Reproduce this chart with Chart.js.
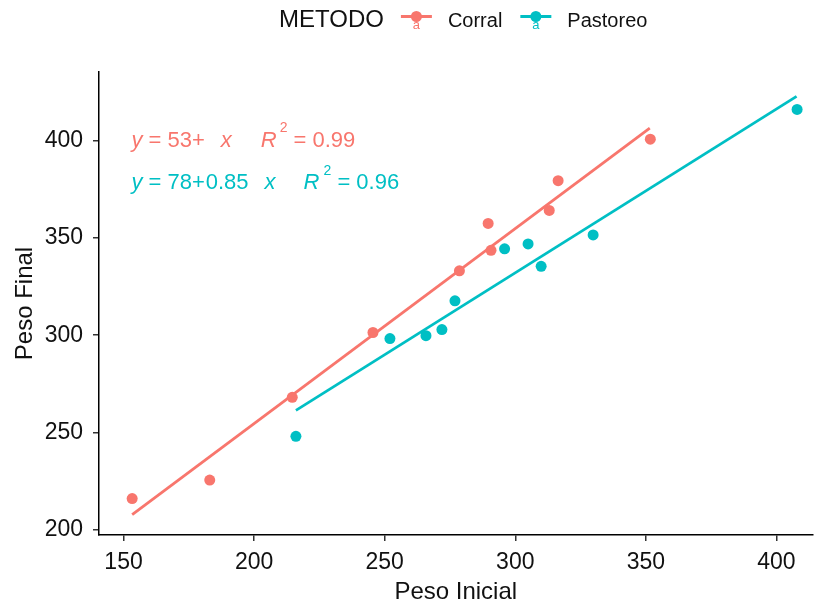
<!DOCTYPE html>
<html lang="es">
<head>
  <meta charset="UTF-8">
  <title>Peso Final vs Peso Inicial</title>
  <script src="https://cdn.jsdelivr.net/npm/chart.js"></script>
  <style>
    html, body { margin: 0; padding: 0; background: #fff; }
    #chart { display: block; }
  </style>
</head>
<body>
  <canvas id="chart" width="818" height="607"></canvas>

  <script>
    // --- data ---
    const xTicks = [150, 200, 250, 300, 350, 400];
    const yTicks = [200, 250, 300, 350, 400];

    const corralInicial = [153.3, 183, 214.6, 245.5, 278.6, 289.6, 290.7, 313, 316.4, 351.7];
    const corralFinal   = [216.1, 225.6, 268.1, 301.4, 333.1, 357.4, 343.6, 364.1, 379.4, 400.7];

    const pastoreoInicial = [216, 252, 265.8, 271.9, 276.9, 295.9, 304.9, 309.9, 329.8, 407.9];
    const pastoreoFinal   = [248.1, 298.3, 299.8, 302.9, 317.7, 344.4, 346.9, 335.4, 351.5, 416.0];

    // regression lines (ends as drawn in the picture)
    const corralLineX = [153.3, 351.5];
    const corralLineY = [207.9, 406.4];
    const pastoreoLineX = [216, 407.7];
    const pastoreoLineY = [261.4, 422.7];

    const groups = ['Corral', 'Pastoreo'];
    const colors = ['#F8766D', '#00BFC4'];

    // equation labels, anchored in data units
    const labelX = 153;
    const labelY = [400, 378];
    const eqParts = [
      [{t: 'y', it: true}, {t: ' = 53+'}, {gap: 16}, {t: 'x', it: true}, {gap: 29},
       {t: 'R', it: true}, {gap: 3}, {t: '2', sup: true}, {t: ' = 0.99'}],
      [{t: 'y', it: true}, {t: ' = 78+'}, {gap: 1}, {t: '0.85'}, {gap: 16}, {t: 'x', it: true}, {gap: 28},
       {t: 'R', it: true}, {gap: 4}, {t: '2', sup: true}, {t: ' = 0.96'}]
    ];

    const toPts = (xs, ys) => xs.map((x, i) => ({x, y: ys[i]}));
    const FONT = '"Liberation Sans", Arial, sans-serif';
    const INK = '#111';

    // equations drawn inside the panel
    const eqPlugin = {
      id: 'eqLabels',
      afterDatasetsDraw(chart) {
        const {ctx, scales: {x, y}} = chart;
        ctx.save();
        ctx.textBaseline = 'middle';
        ctx.textAlign = 'left';
        eqParts.forEach((parts, g) => {
          let px = x.getPixelForValue(labelX);
          const py = y.getPixelForValue(labelY[g]);
          ctx.fillStyle = colors[g];
          parts.forEach(p => {
            if (p.gap) { px += p.gap; return; }
            if (p.sup) {
              ctx.font = '14px ' + FONT;
              ctx.fillText(p.t, px, py - 12);
            } else {
              ctx.font = (p.it ? 'italic ' : '') + '22px ' + FONT;
              ctx.fillText(p.t, px, py);
            }
            px += ctx.measureText(p.t).width;
          });
        });
        ctx.restore();
      }
    };

    // ggplot-style legend on top: title then keys inline
    const legendPlugin = {
      id: 'topLegend',
      afterDraw(chart) {
        const ctx = chart.ctx;
        ctx.save();
        ctx.textBaseline = 'alphabetic';
        ctx.textAlign = 'left';
        ctx.fillStyle = INK;
        ctx.font = '24px ' + FONT;
        let px = 279;
        const base = 27;
        ctx.fillText('METODO', px, base);
        px += ctx.measureText('METODO').width + 17;
        groups.forEach((name, i) => {
          const cy = 16.5;
          ctx.strokeStyle = colors[i];
          ctx.lineWidth = 3;
          ctx.beginPath();
          ctx.moveTo(px, cy);
          ctx.lineTo(px + 31, cy);
          ctx.stroke();
          ctx.fillStyle = colors[i];
          ctx.beginPath();
          ctx.arc(px + 15.5, cy, 5.5, 0, Math.PI * 2);
          ctx.fill();
          ctx.font = '13px ' + FONT;
          ctx.textAlign = 'center';
          ctx.fillText('a', px + 15.5, 29);
          ctx.textAlign = 'left';
          px += 31 + 16;
          ctx.fillStyle = INK;
          ctx.font = '20px ' + FONT;
          ctx.fillText(name, px, base);
          px += ctx.measureText(name).width + 18;
        });
        ctx.restore();
      }
    };

    const axisCommon = {
      type: 'linear',
      border: {display: true, color: '#000', width: 1.5},
      grid: {drawOnChartArea: false, drawTicks: true, tickLength: 6, color: '#333', lineWidth: 1.5},
      ticks: {color: INK, font: {family: FONT, size: 23}}
    };

    new Chart(document.getElementById('chart'), {
      type: 'scatter',
      data: {
        datasets: [
          {label: 'Corral', data: toPts(corralInicial, corralFinal),
           pointRadius: 5.5, pointHoverRadius: 5.5, backgroundColor: colors[0], borderWidth: 0},
          {label: 'Pastoreo', data: toPts(pastoreoInicial, pastoreoFinal),
           pointRadius: 5.5, pointHoverRadius: 5.5, backgroundColor: colors[1], borderWidth: 0},
          {label: 'Corral fit', data: toPts(corralLineX, corralLineY), showLine: true,
           pointRadius: 0, borderColor: colors[0], borderWidth: 2.8},
          {label: 'Pastoreo fit', data: toPts(pastoreoLineX, pastoreoLineY), showLine: true,
           pointRadius: 0, borderColor: colors[1], borderWidth: 2.8}
        ]
      },
      options: {
        responsive: false,
        animation: false,
        layout: {padding: {top: 72, right: 0, bottom: 0, left: 0}},
        plugins: {legend: {display: false}, tooltip: {enabled: false}},
        scales: {
          x: {
            ...axisCommon,
            min: 140.6, max: 413.8,
            ticks: {...axisCommon.ticks, padding: 8},
            title: {display: true, text: 'Peso Inicial', color: INK,
                    font: {family: FONT, size: 24}, padding: {top: 0, bottom: 0}},
            afterBuildTicks: s => { s.ticks = xTicks.map(v => ({value: v})); },
            afterFit: s => { s.height = 72; }
          },
          y: {
            ...axisCommon,
            min: 197.4, max: 435.2,
            ticks: {...axisCommon.ticks, padding: 10},
            title: {display: true, text: 'Peso Final', color: INK,
                    font: {family: FONT, size: 24}, padding: {top: 11, bottom: 0}},
            afterBuildTicks: s => { s.ticks = yTicks.map(v => ({value: v})); },
            afterFit: s => { s.width = 99; }
          }
        }
      },
      plugins: [eqPlugin, legendPlugin]
    });
  </script>
</body>
</html>
